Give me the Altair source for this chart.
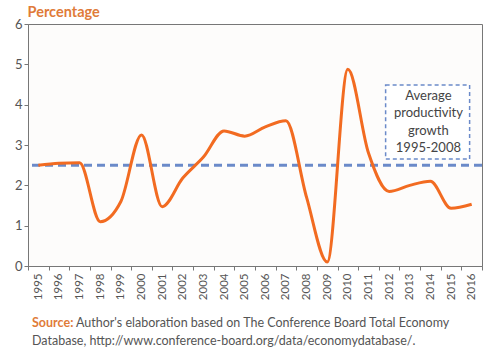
import altair as alt
import pandas as pd

years = [str(y) for y in range(1995, 2017)]
growth = [2.5, 2.55, 2.56, 1.1, 1.6, 3.25, 1.47, 2.18, 2.7, 3.35, 3.22, 3.45,
          3.6, 1.7, 0.1, 4.88, 2.8, 1.85, 2.0, 2.1, 1.43, 1.53]
average = 2.5
box_text = ["Average", "productivity", "growth", "1995-2008"]
source_lead = "Source:"
source_lines = ["Author's elaboration based on The Conference Board Total Economy",
                "Database, http://www.conference-board.org/data/economydatabase/."]

FONT = "Lato, DejaVu Sans Condensed, sans-serif"
ORANGE = "#f26b21"
BLUE = "#6b8ac9"
GREY = "#555555"

df = pd.DataFrame({"year": years, "value": growth})

xenc = alt.X("year:O", sort=years,
             scale=alt.Scale(type="band", paddingInner=0, paddingOuter=0, domain=years),
             axis=alt.Axis(title=None, labelAngle=270, tickBand="extent", tickSize=4,
                           labelFontSize=11.5, labelColor=GREY, labelFont=FONT,
                           domainColor="#777", tickColor="#777", labelPadding=3,
                           labelBaseline="middle", labelAlign="right"))
yenc = alt.Y("value:Q", scale=alt.Scale(domain=[0, 6], nice=False),
             axis=alt.Axis(values=[0, 1, 2, 3, 4, 5, 6], grid=False, tickSize=4,
                           labelFontSize=13, labelColor=GREY, labelFont=FONT,
                           domainColor="#777", tickColor="#777", labelPadding=2,
                           title="Percentage", titleAngle=0, titleAlign="left",
                           titleBaseline="middle", titleX=-1, titleY=-12,
                           titleColor="#e07b39", titleFont=FONT, titleFontSize=14.5,
                           titleFontWeight="bold"))

base = alt.Chart(df)

avg_line = alt.Chart(pd.DataFrame({"avg": [average]})).mark_rule(
    color=BLUE, strokeWidth=3, strokeDash=[8, 5]
).encode(y=alt.Y("avg:Q"))

line = base.mark_line(color=ORANGE, strokeWidth=3, interpolate="monotone").encode(
    x=alt.X("year:O", sort=years, bandPosition=0.5), y="value:Q")

box_df = pd.DataFrame({"x1": ["2012"], "x2": ["2016"], "y1": [4.49], "y2": [2.65]})
box = alt.Chart(box_df).mark_rect(
    fill="white", stroke=BLUE, strokeWidth=1.5, strokeDash=[4, 3]
).encode(
    x=alt.X("x1:O", bandPosition=0.33),
    x2=alt.X2("x2", bandPosition=0.4),
    y="y1:Q", y2="y2")

txt = alt.Chart(pd.DataFrame({"x": ["2014"], "y": [4.22], "t": [box_text]})).mark_text(
    font=FONT, fontSize=13, color="#444", lineHeight=17.5, baseline="middle",
    align="center", dx=-2
).encode(x=alt.X("x:O", bandPosition=0.5), y="y:Q", text="t")

src1 = alt.Chart(pd.DataFrame({"t": [source_lead]})).mark_text(
    font=FONT, fontSize=12.5, fontWeight="bold", color="#e07b39", align="left",
    baseline="middle"
).encode(x=alt.value(4), y=alt.value(299), text="t:N")
src2 = alt.Chart(pd.DataFrame({"t": [source_lines[0]]})).mark_text(
    font=FONT, fontSize=12.5, color=GREY, align="left", baseline="middle"
).encode(x=alt.value(48), y=alt.value(299), text="t:N")
src3 = alt.Chart(pd.DataFrame({"t": [source_lines[1]]})).mark_text(
    font=FONT, fontSize=12.5, color=GREY, align="left", baseline="middle"
).encode(x=alt.value(4), y=alt.value(317), text="t:N")

chart = alt.layer(
    base.mark_line(opacity=0).encode(x=xenc, y=yenc),
    avg_line, line, box, txt, src1, src2, src3
).properties(
    width=454, height=242,
    autosize=alt.AutoSizeParams(type="none"),
    padding={"left": 28, "top": 24, "right": 10, "bottom": 87},
    background="white"
).configure_view(stroke="#777", strokeWidth=1, fill="#fdfcfb")

chart.save("out.html", embed_options={"renderer": "svg", "actions": False})
